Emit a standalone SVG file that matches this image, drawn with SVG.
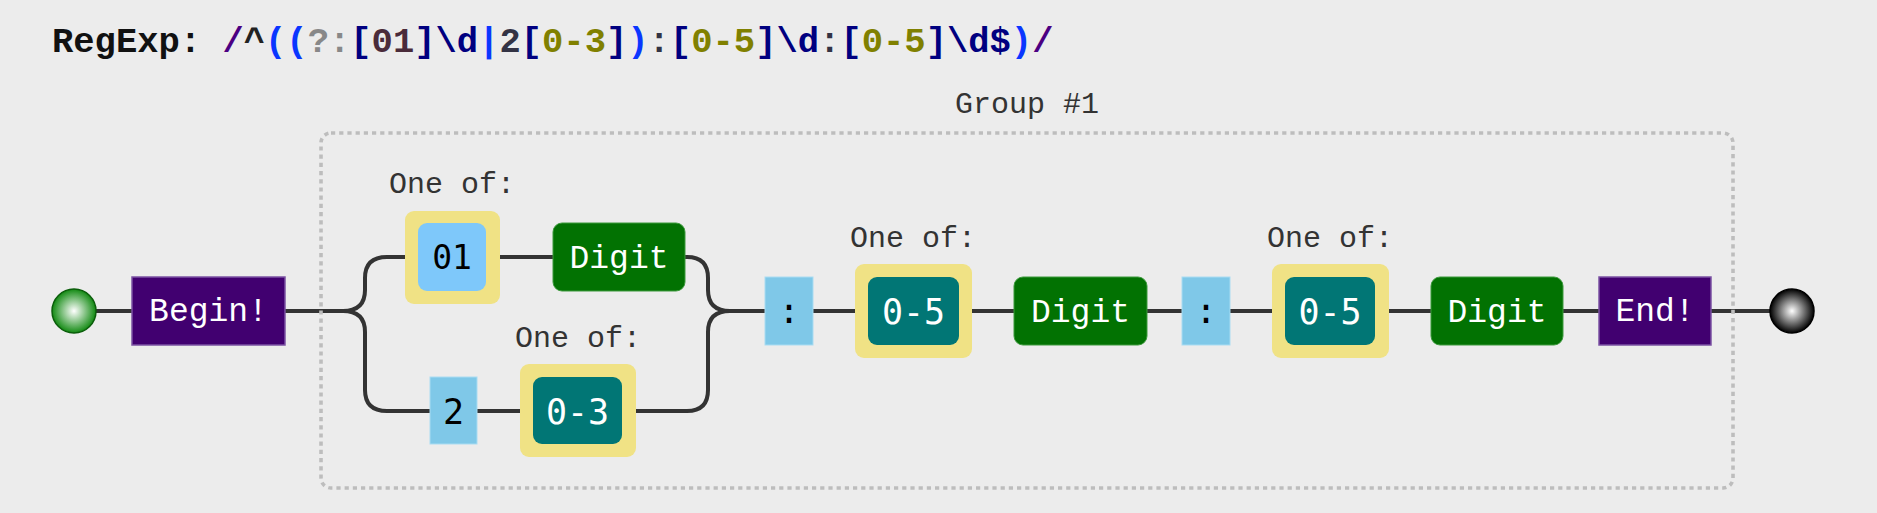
<svg xmlns="http://www.w3.org/2000/svg" width="1877" height="513" viewBox="0 0 1877 513">
<defs>
<radialGradient id="gStart" cx="50%" cy="50%" r="50%">
<stop offset="0" stop-color="#ffffff"/>
<stop offset="1" stop-color="#128a12"/>
</radialGradient>
<radialGradient id="gEnd" cx="50%" cy="50%" r="50%">
<stop offset="0" stop-color="#ffffff"/>
<stop offset="1" stop-color="#000000"/>
</radialGradient>
<style>
.line{fill:none;stroke:#333;stroke-width:4}
.lbl{font-family:"Liberation Mono",monospace;font-size:30px;fill:#333;text-anchor:middle}
.wt{font-family:"Liberation Mono",monospace;font-size:33px;fill:#fff;text-anchor:middle}
.num{font-family:"DejaVu Sans Mono",monospace;font-size:35px;text-anchor:middle}
.anchor{fill:#410070;stroke:#7b52a3;stroke-width:1.5}
.cls{fill:#027202;stroke:#3d9a3d;stroke-width:1}
.set{fill:#f0e285}
.rng{fill:#017675}
.exact{fill:#7fc8e8;stroke:#a9dcf2;stroke-width:1}
.lsb{fill:#7ec8fa}
.title{font-family:"Liberation Mono",monospace;font-size:35.5px;font-weight:bold}
</style>
</defs>
<rect x="0" y="0" width="1877" height="513" fill="#ececec"/>
<text class="title" x="52" y="52" xml:space="preserve"><tspan fill="#111">RegExp: </tspan><tspan fill="#4b0082">/</tspan><tspan fill="#222">^</tspan><tspan fill="#0a36ff">((</tspan><tspan fill="#888">?:</tspan><tspan fill="#000080">[</tspan><tspan fill="#4a2b3a">01</tspan><tspan fill="#000080">]\d</tspan><tspan fill="#0a36ff">|</tspan><tspan fill="#334">2</tspan><tspan fill="#000080">[</tspan><tspan fill="#808000">0-3</tspan><tspan fill="#000080">]</tspan><tspan fill="#0a36ff">)</tspan><tspan fill="#334">:</tspan><tspan fill="#000080">[</tspan><tspan fill="#808000">0-5</tspan><tspan fill="#000080">]\d</tspan><tspan fill="#334">:</tspan><tspan fill="#000080">[</tspan><tspan fill="#808000">0-5</tspan><tspan fill="#000080">]\d$</tspan><tspan fill="#0a36ff">)</tspan><tspan fill="#4b0082">/</tspan></text>

<g id="connectors">
<path class="line" d="M96 311 H132"/>
<path class="line" d="M285 311 H343"/>
<path class="line" d="M343 311 Q365 311 365 290 V278 Q365 257 387 257 H405"/>
<path class="line" d="M343 311 Q365 311 365 332 V390 Q365 411 387 411 H430"/>
<path class="line" d="M500 257 H553"/>
<path class="line" d="M477 411 H520"/>
<path class="line" d="M685 257 H687 Q708 257 708 278 V290 Q708 311 730 311"/>
<path class="line" d="M636 411 H687 Q708 411 708 390 V332 Q708 311 730 311"/>
<path class="line" d="M730 311 H765"/>
<path class="line" d="M813 311 H855"/>
<path class="line" d="M972 311 H1014"/>
<path class="line" d="M1147 311 H1182"/>
<path class="line" d="M1230 311 H1272"/>
<path class="line" d="M1389 311 H1431"/>
<path class="line" d="M1563 311 H1599"/>
<path class="line" d="M1711 311 H1770"/>
</g>

<g id="group1">
<rect x="321" y="133" width="1412" height="355" rx="10" fill="none" stroke="#bdbdbd" stroke-width="3.6" stroke-dasharray="4.2,4"/>
<text class="lbl" x="1027" y="113">Group #1</text>
</g>

<g id="start">
<circle cx="74" cy="311" r="22" fill="url(#gStart)" stroke="#0b5e0b" stroke-width="1.5"/>
</g>

<g id="begin">
<rect class="anchor" x="132" y="277" width="153" height="68"/>
<text class="wt" x="208.5" y="321">Begin!</text>
</g>

<g id="set01">
<text class="lbl" x="452" y="193">One of:</text>
<rect class="set" x="405" y="211" width="95" height="93" rx="9"/>
<rect class="lsb" x="418" y="223" width="68" height="68" rx="9"/>
<text class="num" x="452" y="269" fill="#000" style="font-size:33px">01</text>
</g>

<g id="digit1">
<rect class="cls" x="553" y="223" width="132" height="68" rx="9"/>
<text class="wt" x="619" y="268">Digit</text>
</g>

<g id="char2">
<rect class="exact" x="430" y="377" width="47" height="67"/>
<text class="num" x="453.5" y="424" fill="#000">2</text>
</g>

<g id="set03">
<text class="lbl" x="578" y="347">One of:</text>
<rect class="set" x="520" y="364" width="116" height="93" rx="9"/>
<rect class="rng" x="533" y="377" width="89" height="67" rx="9"/>
<text class="num" x="577.5" y="424" fill="#fff">0-3</text>
</g>

<g id="colon1">
<rect class="exact" x="765" y="277" width="48" height="68"/>
<text class="num" x="789" y="323" fill="#000">:</text>
</g>

<g id="set05a">
<text class="lbl" x="913" y="247">One of:</text>
<rect class="set" x="855" y="264" width="117" height="94" rx="9"/>
<rect class="rng" x="868" y="277" width="91" height="68" rx="9"/>
<text class="num" x="913.5" y="324" fill="#fff">0-5</text>
</g>

<g id="digit2">
<rect class="cls" x="1014" y="277" width="133" height="68" rx="9"/>
<text class="wt" x="1080.5" y="322">Digit</text>
</g>

<g id="colon2">
<rect class="exact" x="1182" y="277" width="48" height="68"/>
<text class="num" x="1206" y="323" fill="#000">:</text>
</g>

<g id="set05b">
<text class="lbl" x="1330" y="247">One of:</text>
<rect class="set" x="1272" y="264" width="117" height="94" rx="9"/>
<rect class="rng" x="1285" y="277" width="90" height="68" rx="9"/>
<text class="num" x="1330" y="324" fill="#fff">0-5</text>
</g>

<g id="digit3">
<rect class="cls" x="1431" y="277" width="132" height="68" rx="9"/>
<text class="wt" x="1497" y="322">Digit</text>
</g>

<g id="end">
<rect class="anchor" x="1599" y="277" width="112" height="68"/>
<text class="wt" x="1655" y="321">End!</text>
</g>

<g id="finish">
<circle cx="1792" cy="311" r="22" fill="url(#gEnd)" stroke="#000" stroke-width="1.5"/>
</g>
</svg>
